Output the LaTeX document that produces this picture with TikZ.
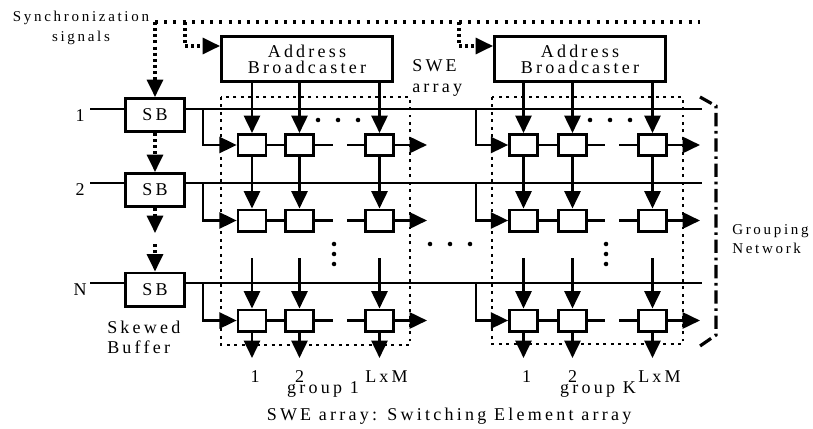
\documentclass[tikz,border=0pt]{standalone}
\usepackage{fontspec}
\setmainfont[LetterSpace=18]{Liberation Serif}
\usetikzlibrary{arrows.meta}

\begin{document}
\begin{tikzpicture}[x=0.75pt,y=-0.75pt,
  wire/.style={line width=2pt},
  arw/.style={-{Triangle[length=13pt,width=12pt]}},
  dotline/.style={line width=2.3pt,dash pattern=on 2.3pt off 4.6pt},
  densedots/.style={line width=2.3pt,dash pattern=on 2.3pt off 2.3pt},
  framedots/.style={line width=2.2pt,dash pattern=on 2.2pt off 3.4pt},
  sbbox/.style={draw,line width=2pt,minimum width=44.5pt,minimum height=25pt,inner sep=0pt,font=\fontsize{13.5}{14}\selectfont},
  abbox/.style={draw,line width=2pt,minimum width=128.5pt,minimum height=34pt,inner sep=0pt,align=center,font=\fontsize{13.5}{12}\selectfont},
  swe/.style={draw,line width=2pt,minimum width=21pt,minimum height=16pt,inner sep=0pt},
  lbl/.style={inner sep=0pt,font=\fontsize{13.5}{14}\selectfont},
  small/.style={inner sep=0pt,font=\fontsize{11.25}{15}\selectfont},
  pt/.style={fill,circle,inner sep=0pt,minimum size=3.4pt}]
\useasboundingbox (0,0) rectangle (813,428);

% ---- skewed buffers and input lines ----
\node[sbbox] (sb1) at (155,115) {SB};
\node[sbbox] (sb2) at (155,190) {SB};
\node[sbbox] (sb3) at (155,289.5) {SB};
\foreach \r/\ly/\nm in {1/109/1, 2/183/2, 3/283/N} {
  \coordinate (in\r) at (90,\ly);
  \coordinate (end\r) at (702,\ly);
  \node[lbl,anchor=base] (nin\r) at (80,\ly+12) {\nm};
  \draw[wire] (in\r) -- (in\r -| sb\r.west);
  \draw[wire] (sb\r.east |- in\r) -- (end\r);
}

% ---- address broadcasters ----
\node[abbox] (ab1) at (307,59) {Address\\Broadcaster};
\node[abbox] (ab2) at (580,59) {Address\\Broadcaster};

% ---- synchronization signals ----
\node[small,anchor=base] (sync) at (81,22) {Synchronization};
\node[small,anchor=base] (sig) at (81,42) {signals};
\coordinate (s0) at (155,22);
\coordinate (s1) at (700,22);
\coordinate (sa) at (185,22);
\coordinate (sa2) at (185,46);
\coordinate (sk) at (459,22);
\coordinate (sk2) at (459,46);
\draw[dotline] (s0) -- (s1);
\draw[densedots,arw] (s0) -- (sb1.north);
\draw[densedots] (sa) -- (sa2);
\draw[densedots,arw] (sa2) -- (sa2 -| ab1.west);
\draw[densedots] (sk) -- (sk2);
\draw[densedots,arw] (sk2) -- (sk2 -| ab2.west);

% skewed buffer chain
\coordinate (ch1) at (155,233);
\coordinate (ch2) at (155,244);
\draw[densedots,arw] (sb1.south) -- (sb2.north);
\draw[densedots,arw] (sb2.south) -- (ch1);
\draw[densedots,arw] (ch2) -- (sb3.north);

% ---- switching element arrays ----
\foreach \g/\xa/\xb/\xc/\xbr/\gp/\ab in {a/252/299.5/379.5/203/333/ab1, b/523.5/572.5/652.5/476/605/ab2} {
  \foreach \r/\y/\ly in {1/145/109, 2/220.5/183, 3/320.5/283} {
    \node[swe] (\g\r1) at (\xa,\y) {};
    \node[swe] (\g\r2) at (\xb,\y) {};
    \node[swe] (\g\r3) at (\xc,\y) {};
    \coordinate (\g br\r) at (\xbr,\ly);
    \coordinate (\g gl\r) at (\gp,\y);
    \coordinate (\g gr\r) at ({\gp+14},\y);
    \coordinate (\g out\r) at ({\xc+47.5},\y);
    \draw[wire,arw] (\g br\r) |- (\g\r1.west);
    \draw[wire] (\g\r1.east) -- (\g\r2.west);
    \draw[wire] (\g\r2.east) -- (\g gl\r);
    \draw[wire] (\g gr\r) -- (\g\r3.west);
    \draw[wire,arw] (\g\r3.east) -- (\g out\r);
  }
  \foreach \c/\x in {1/\xa, 2/\xb, 3/\xc} {
    \coordinate (\g top\c) at (\x,258);
    \coordinate (\g bot\c) at (\x,358);
    \draw[wire,arw] (\ab.south -| \g1\c.north) -- (\g1\c.north);
    \draw[wire,arw] (\g1\c.south) -- (\g2\c.north);
    \draw[wire,arw] (\g top\c) -- (\g3\c.north);
    \draw[wire,arw] (\g3\c.south) -- (\g bot\c);
  }
  % column and row ellipses
  \foreach \d in {-15,5,25} { \node[pt] at ({\gp+\d},120) {}; }
  \foreach \d in {244,254,264} { \node[pt] at ({\gp+1},\d) {}; }
  % output indices
  \node[lbl,anchor=base] at ({\xa+3},382) {1};
  \node[lbl,anchor=base] at (\xb,382) {2};
  \node[lbl,anchor=base] at ({\xc+7},382) {LxM};
}
\foreach \x in {430,450,470} { \node[pt] at (\x,244) {}; }

% dotted frames of the SWE arrays
\draw[framedots] (221,97) rectangle (410,345);
\draw[framedots] (492,97) rectangle (683,344);

% grouping network bracket
\coordinate (gn1) at (700,97);
\coordinate (gn2) at (716,106);
\coordinate (gn3) at (716,335);
\coordinate (gn4) at (700,346);
\draw[line width=2.4pt,dash pattern=on 10pt off 3.5pt on 2pt off 3.5pt] (gn1) -- (gn2) -- (gn3) -- (gn4);

% ---- labels ----
\node[lbl,anchor=base west] at (412,72) {SWE};
\node[lbl,anchor=base west] at (412,92) {array};
\node[small,anchor=base west] at (732,234) {Grouping};
\node[small,anchor=base west] at (732,253) {Network};
\node[lbl,anchor=base west] at (107,333) {Skewed};
\node[lbl,anchor=base west] at (107,353) {Buffer};
\node[lbl,anchor=base] at (323,393) {group 1};
\node[lbl,anchor=base] at (598,393) {group K};
\node[lbl,anchor=base] at (449,420) {SWE array: Switching Element array};
\end{tikzpicture}
\end{document}
